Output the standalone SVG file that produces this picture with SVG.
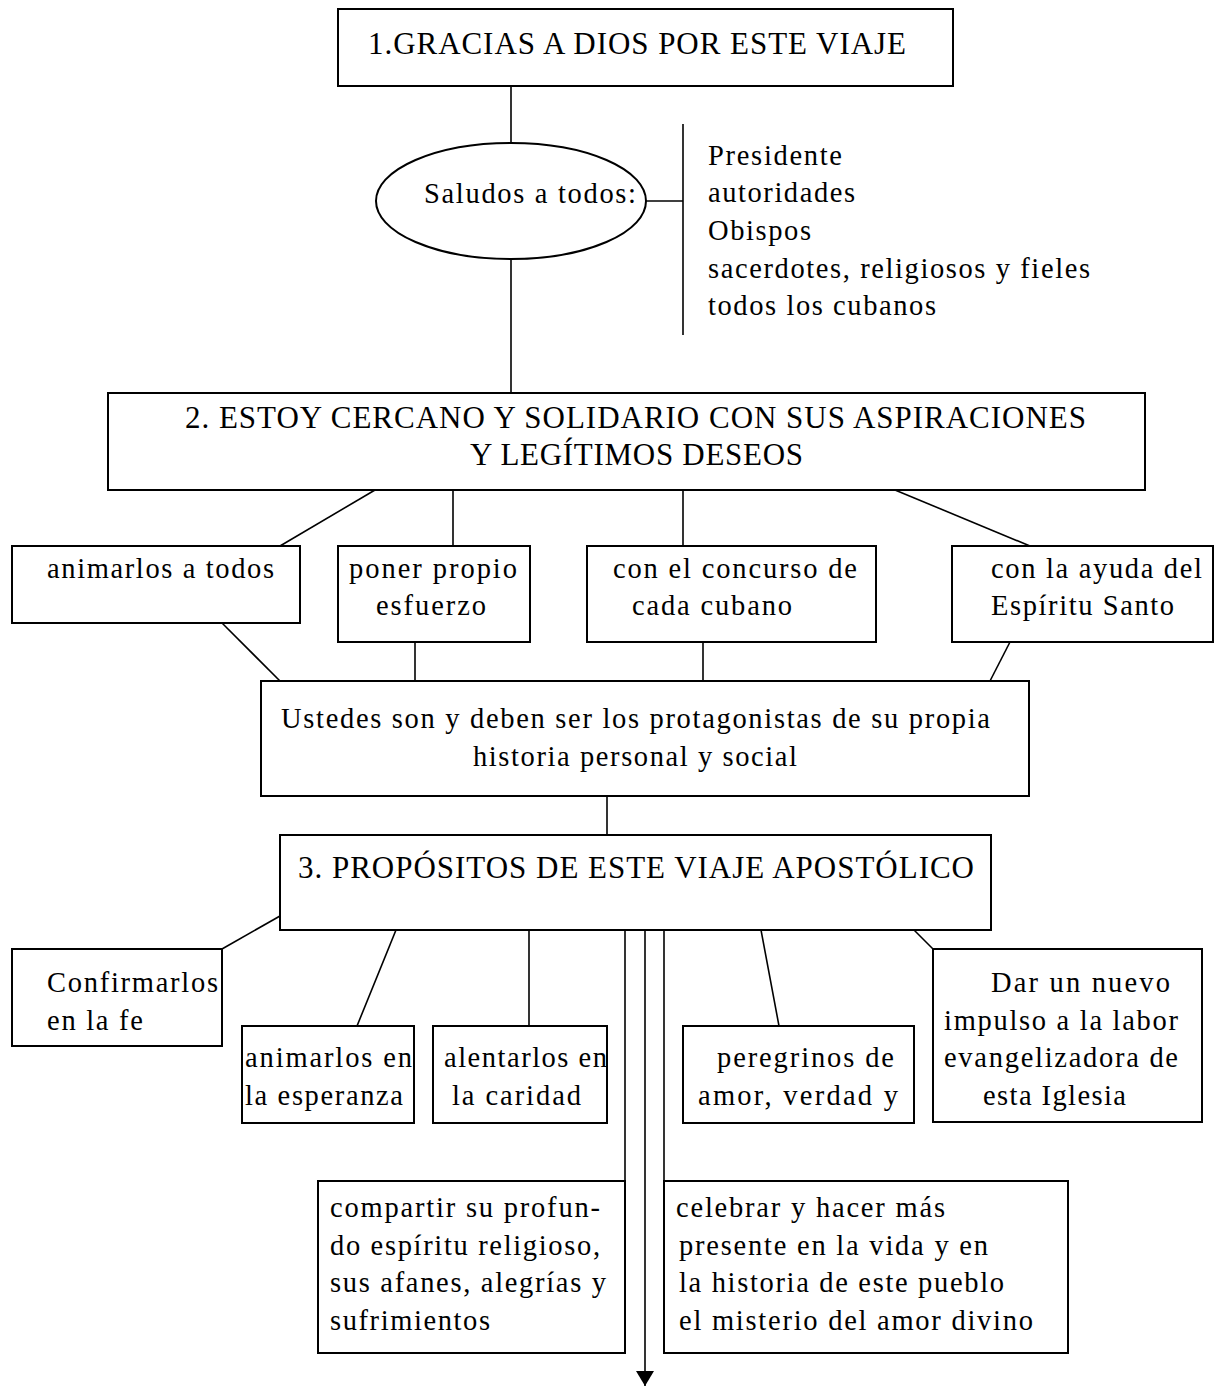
<svg xmlns="http://www.w3.org/2000/svg" width="1215" height="1386" viewBox="0 0 1215 1386">
<style>
.b{fill:#fff;stroke:#000;stroke-width:2}
.c{fill:none;stroke:#000;stroke-width:1.6}
text{font-family:"Liberation Serif","Times New Roman",serif;font-size:28.5px;fill:#000}
.h{font-size:31px}
</style>
<defs>
<marker id="ah" viewBox="0 0 15 18" refX="15" refY="9" markerWidth="15" markerHeight="18" markerUnits="userSpaceOnUse" orient="auto">
<path d="M0,0 L15,9 L0,18 Z" fill="#000"/>
</marker>
</defs>
<rect width="1215" height="1386" fill="#fff"/>
<g id="connectors">
<line class="c" x1="511" y1="86" x2="511" y2="143"/>
<line class="c" x1="646" y1="201" x2="683" y2="201"/>
<line class="c" x1="683" y1="124" x2="683" y2="335"/>
<line class="c" x1="511" y1="259" x2="511" y2="393"/>
<line class="c" x1="375" y1="490" x2="280" y2="546"/>
<line class="c" x1="453" y1="490" x2="453" y2="546"/>
<line class="c" x1="683" y1="490" x2="683" y2="546"/>
<line class="c" x1="895" y1="490" x2="1030" y2="546"/>
<line class="c" x1="222" y1="623" x2="280" y2="681"/>
<line class="c" x1="415" y1="642" x2="415" y2="681"/>
<line class="c" x1="703" y1="642" x2="703" y2="681"/>
<line class="c" x1="1010" y1="642" x2="990" y2="681"/>
<line class="c" x1="607" y1="796" x2="607" y2="835"/>
<line class="c" x1="280" y1="916" x2="222" y2="949"/>
<line class="c" x1="396" y1="930" x2="357" y2="1026"/>
<line class="c" x1="529" y1="930" x2="529" y2="1026"/>
<line class="c" x1="761" y1="930" x2="779" y2="1026"/>
<line class="c" x1="914" y1="930" x2="933" y2="949"/>
<line class="c" x1="625" y1="930" x2="625" y2="1181"/>
<line class="c" x1="664" y1="930" x2="664" y2="1181"/>
<line class="c" x1="645" y1="930" x2="645" y2="1386" marker-end="url(#ah)"/>
</g>
<g id="n1">
<rect class="b" x="338" y="9" width="615" height="77"/>
<text class="h" x="368" y="54" textLength="538" lengthAdjust="spacing">1.GRACIAS A DIOS POR ESTE VIAJE</text>
</g>
<g id="saludos">
<ellipse class="b" cx="511" cy="201" rx="135" ry="58"/>
<text x="424" y="203" textLength="212" lengthAdjust="spacing">Saludos a todos:</text>
</g>
<g id="lista">
<text x="708" y="165" textLength="134" lengthAdjust="spacing">Presidente</text>
<text x="708" y="202" textLength="147" lengthAdjust="spacing">autoridades</text>
<text x="708" y="240" textLength="103" lengthAdjust="spacing">Obispos</text>
<text x="708" y="278" textLength="382" lengthAdjust="spacing">sacerdotes, religiosos y fieles</text>
<text x="708" y="315" textLength="228" lengthAdjust="spacing">todos los cubanos</text>
</g>
<g id="n2">
<rect class="b" x="108" y="393" width="1037" height="97"/>
<text class="h" x="185" y="428" textLength="901" lengthAdjust="spacing">2. ESTOY CERCANO Y SOLIDARIO CON SUS ASPIRACIONES</text>
<text class="h" x="470" y="465" textLength="333" lengthAdjust="spacing">Y LEGÍTIMOS DESEOS</text>
</g>
<g id="animarlos-todos">
<rect class="b" x="12" y="546" width="288" height="77"/>
<text x="47" y="578" textLength="227" lengthAdjust="spacing">animarlos a todos</text>
</g>
<g id="poner">
<rect class="b" x="338" y="546" width="192" height="96"/>
<text x="349" y="578" textLength="168" lengthAdjust="spacing">poner propio</text>
<text x="376" y="615" textLength="110" lengthAdjust="spacing">esfuerzo</text>
</g>
<g id="concurso">
<rect class="b" x="587" y="546" width="289" height="96"/>
<text x="613" y="578" textLength="244" lengthAdjust="spacing">con el concurso de</text>
<text x="632" y="615" textLength="160" lengthAdjust="spacing">cada cubano</text>
</g>
<g id="ayuda">
<rect class="b" x="952" y="546" width="261" height="96"/>
<text x="991" y="578" textLength="211" lengthAdjust="spacing">con la ayuda del</text>
<text x="991" y="615" textLength="183" lengthAdjust="spacing">Espíritu Santo</text>
</g>
<g id="ustedes">
<rect class="b" x="261" y="681" width="768" height="115"/>
<text x="281" y="728" textLength="709" lengthAdjust="spacing">Ustedes son y deben ser los protagonistas de su propia</text>
<text x="473" y="766" textLength="324" lengthAdjust="spacing">historia personal y social</text>
</g>
<g id="n3">
<rect class="b" x="280" y="835" width="711" height="95"/>
<text class="h" x="298" y="878" textLength="676" lengthAdjust="spacing">3. PROPÓSITOS DE ESTE VIAJE APOSTÓLICO</text>
</g>
<g id="confirmarlos">
<rect class="b" x="12" y="949" width="210" height="97"/>
<text x="47" y="992" textLength="171" lengthAdjust="spacing">Confirmarlos</text>
<text x="47" y="1030" textLength="96" lengthAdjust="spacing">en la fe</text>
</g>
<g id="esperanza">
<rect class="b" x="242" y="1026" width="172" height="97"/>
<text x="245" y="1067" textLength="167" lengthAdjust="spacing">animarlos en</text>
<text x="245" y="1105" textLength="158" lengthAdjust="spacing">la esperanza</text>
</g>
<g id="caridad">
<rect class="b" x="433" y="1026" width="174" height="97"/>
<text x="444" y="1067" textLength="163" lengthAdjust="spacing">alentarlos en</text>
<text x="452" y="1105" textLength="129" lengthAdjust="spacing">la caridad</text>
</g>
<g id="peregrinos">
<rect class="b" x="683" y="1026" width="231" height="97"/>
<text x="717" y="1067" textLength="177" lengthAdjust="spacing">peregrinos de</text>
<text x="698" y="1105" textLength="200" lengthAdjust="spacing">amor, verdad y</text>
</g>
<g id="impulso">
<rect class="b" x="933" y="949" width="269" height="173"/>
<text x="991" y="992" textLength="179" lengthAdjust="spacing">Dar un nuevo</text>
<text x="944" y="1030" textLength="234" lengthAdjust="spacing">impulso a la labor</text>
<text x="944" y="1067" textLength="234" lengthAdjust="spacing">evangelizadora de</text>
<text x="983" y="1105" textLength="143" lengthAdjust="spacing">esta Iglesia</text>
</g>
<g id="compartir">
<rect class="b" x="318" y="1181" width="307" height="172"/>
<text x="330" y="1217" textLength="270" lengthAdjust="spacing">compartir su profun-</text>
<text x="330" y="1255" textLength="270" lengthAdjust="spacing">do espíritu religioso,</text>
<text x="330" y="1292" textLength="276" lengthAdjust="spacing">sus afanes, alegrías y</text>
<text x="330" y="1330" textLength="160" lengthAdjust="spacing">sufrimientos</text>
</g>
<g id="celebrar">
<rect class="b" x="664" y="1181" width="404" height="172"/>
<text x="676" y="1217" textLength="269" lengthAdjust="spacing">celebrar y hacer más</text>
<text x="679" y="1255" textLength="309" lengthAdjust="spacing">presente en la vida y en</text>
<text x="679" y="1292" textLength="325" lengthAdjust="spacing">la historia de este pueblo</text>
<text x="679" y="1330" textLength="354" lengthAdjust="spacing">el misterio del amor divino</text>
</g>
</svg>
